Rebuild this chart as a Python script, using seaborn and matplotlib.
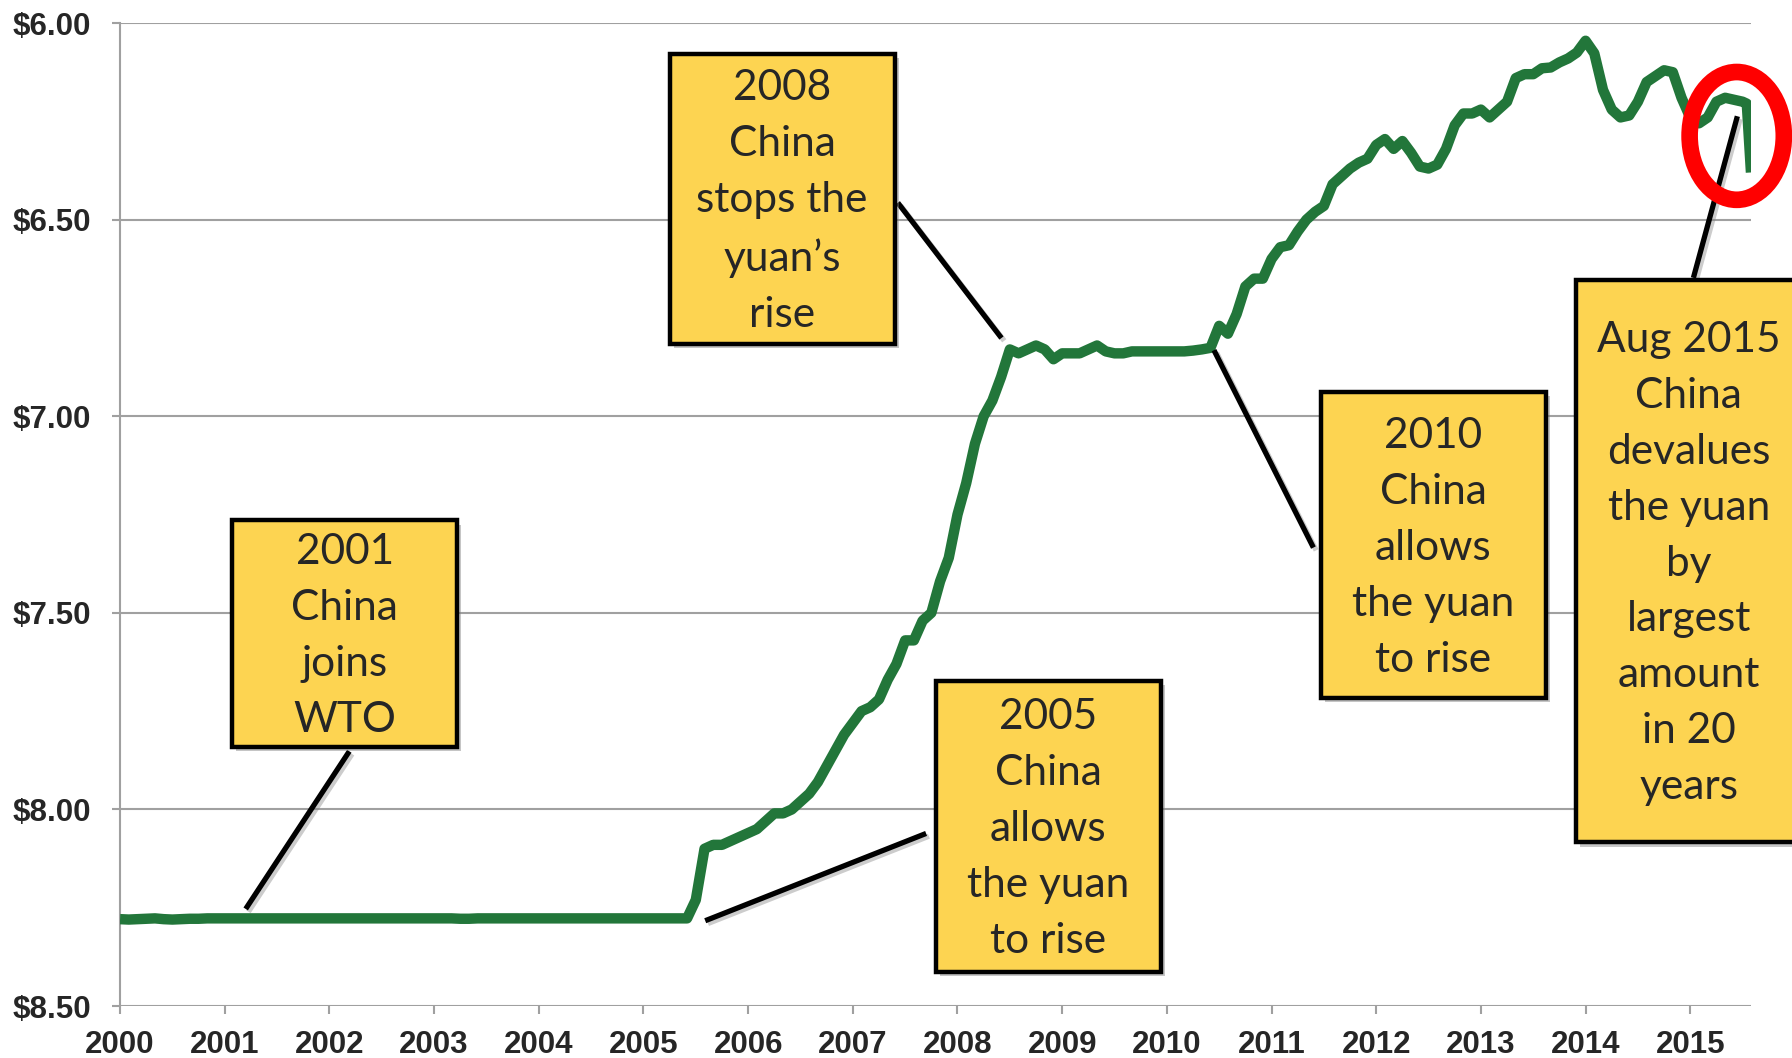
import numpy as np
import pandas as pd
import matplotlib
matplotlib.use("Agg")
import matplotlib.pyplot as plt
import matplotlib.patheffects as pe
from matplotlib.patches import Rectangle, Ellipse
import seaborn as sns

sns.set_style("white")
plt.rcParams['font.family'] = ['Liberation Sans', 'DejaVu Sans']

# monthly yuan per US dollar, Jan 2000 .. Jul 2015
rate_2000 = [8.279, 8.280, 8.279, 8.278, 8.277, 8.279, 8.280, 8.279, 8.278, 8.278, 8.277, 8.277]
rate_2001 = [8.277, 8.277, 8.277, 8.277, 8.277, 8.277, 8.277, 8.277, 8.277, 8.277, 8.277, 8.277]
rate_2002 = [8.277, 8.277, 8.277, 8.277, 8.277, 8.277, 8.277, 8.277, 8.277, 8.277, 8.277, 8.277]
rate_2003 = [8.277, 8.277, 8.277, 8.278, 8.278, 8.277, 8.277, 8.277, 8.277, 8.277, 8.277, 8.277]
rate_2004 = [8.277, 8.277, 8.277, 8.277, 8.277, 8.277, 8.277, 8.277, 8.277, 8.277, 8.277, 8.277]
rate_2005 = [8.277, 8.277, 8.277, 8.277, 8.277, 8.277, 8.23, 8.10, 8.09, 8.09, 8.08, 8.07]
rate_2006 = [8.06, 8.05, 8.03, 8.01, 8.01, 8.00, 7.98, 7.96, 7.93, 7.89, 7.85, 7.81]
rate_2007 = [7.78, 7.75, 7.74, 7.72, 7.67, 7.63, 7.57, 7.57, 7.52, 7.50, 7.42, 7.36]
rate_2008 = [7.25, 7.17, 7.07, 7.00, 6.96, 6.90, 6.83, 6.84, 6.83, 6.82, 6.83, 6.855]
rate_2009 = [6.84, 6.84, 6.84, 6.83, 6.82, 6.835, 6.84, 6.84, 6.835, 6.835, 6.835, 6.835]
rate_2010 = [6.835, 6.835, 6.835, 6.833, 6.83, 6.826, 6.77, 6.79, 6.74, 6.67, 6.65, 6.65]
rate_2011 = [6.60, 6.57, 6.565, 6.53, 6.50, 6.48, 6.465, 6.41, 6.39, 6.37, 6.355, 6.345]
rate_2012 = [6.31, 6.295, 6.32, 6.30, 6.33, 6.365, 6.37, 6.36, 6.32, 6.26, 6.23, 6.23]
rate_2013 = [6.22, 6.24, 6.22, 6.20, 6.14, 6.13, 6.13, 6.115, 6.113, 6.10, 6.09, 6.075]
rate_2014 = [6.045, 6.077, 6.17, 6.22, 6.24, 6.235, 6.20, 6.15, 6.135, 6.12, 6.125, 6.19]
rate_2015 = [6.24, 6.255, 6.24, 6.20, 6.19, 6.195, 6.20]
# the August 2015 devaluation days
aug_time = [2015.54, 2015.58]
aug_rate = [6.205, 6.38]

monthly = (rate_2000 + rate_2001 + rate_2002 + rate_2003 + rate_2004 + rate_2005 + rate_2006
           + rate_2007 + rate_2008 + rate_2009 + rate_2010 + rate_2011 + rate_2012 + rate_2013
           + rate_2014 + rate_2015)
time = list(2000 + np.arange(len(monthly)) / 12) + aug_time
rate = monthly + aug_rate
df = pd.DataFrame({"time": time, "rate": rate})

years = list(range(2000, 2016))
y_ticks = [6.0, 6.5, 7.0, 7.5, 8.0, 8.5]

notes = [
    "2001\nChina\njoins\nWTO",
    "2008\nChina\nstops the\nyuan\u2019s\nrise",
    "2005\nChina\nallows\nthe yuan\nto rise",
    "2010\nChina\nallows\nthe yuan\nto rise",
    "Aug 2015\nChina\ndevalues\nthe yuan\nby\nlargest\namount\nin 20\nyears",
]
# box extents (year_left, year_right, rate_top, rate_bottom)
note_box = [
    (2001.07, 2003.22, 7.265, 7.842),
    (2005.25, 2007.40, 6.079, 6.816),
    (2007.79, 2009.94, 7.673, 8.413),
    (2011.47, 2013.62, 6.939, 7.717),
    (2013.91, 2016.06, 6.653, 8.084),
]
# connector lines (from box, to the curve)
note_line = [
    ((2002.19, 7.852), (2001.20, 8.253)),
    ((2007.43, 6.457), (2008.42, 6.801)),
    ((2007.70, 8.061), (2005.59, 8.283)),
    ((2010.45, 6.832), (2011.40, 7.334)),
    ((2015.03, 6.648), (2015.45, 6.237)),
]

fig = plt.figure(figsize=(17.92, 10.58), dpi=100)
ax = fig.add_axes([0.067, 0.0491, 0.9101, 0.9291])

sns.lineplot(data=df, x="time", y="rate", color="#22763A", linewidth=7.5,
             estimator=None, sort=False, ax=ax, zorder=3,
             solid_joinstyle="round", solid_capstyle="butt")

ax.set_xlim(2000, 2015.58)
ax.set_ylim(8.5, 6.0)
ax.set_xticks(years)
ax.set_xticklabels([str(y) for y in years])
ax.set_yticks(y_ticks)
ax.set_yticklabels(["${:.2f}".format(v) for v in y_ticks])
ax.set_xlabel("")
ax.set_ylabel("")

ax.grid(axis="y", color="#A0A0A0", linewidth=1.5)
ax.grid(axis="x", visible=False)
for s in ["top", "right", "bottom"]:
    ax.spines[s].set_visible(False)
ax.spines["left"].set_color("#A0A0A0")
ax.spines["left"].set_linewidth(1.5)
ax.tick_params(axis="x", length=6, width=1.5, color="#A0A0A0", pad=11,
               labelsize=22.5, direction="out", bottom=True)
ax.tick_params(axis="y", length=6, width=1.5, color="#A0A0A0", pad=15,
               labelsize=22.5, direction="out", left=True)
for lab in ax.get_xticklabels() + ax.get_yticklabels():
    lab.set_fontweight("bold")

shadow = [pe.withSimplePatchShadow(offset=(3, -3), shadow_rgbFace="#808080", alpha=0.45)]
line_shadow = [pe.SimpleLineShadow(offset=(2, -2), shadow_color="#808080", alpha=0.4), pe.Normal()]

for (p0, p1) in note_line:
    ax.plot([p0[0], p1[0]], [p0[1], p1[1]], color="black", linewidth=3.8,
            solid_capstyle="butt", zorder=4, clip_on=False, path_effects=line_shadow)

for text, (x0, x1, ytop, ybot) in zip(notes, note_box):
    rect = Rectangle((x0, ytop), x1 - x0, ybot - ytop, facecolor="#FDD451",
                     edgecolor="black", linewidth=3.2, zorder=5, clip_on=False,
                     path_effects=shadow)
    ax.add_patch(rect)
    ax.text((x0 + x1) / 2, (ytop + ybot) / 2 + 0.006, text, ha="center", va="center",
            fontsize=30.5, family=["Lato", "DejaVu Sans"], linespacing=1.58,
            zorder=6, clip_on=False)

ax.add_patch(Ellipse((2015.444, 6.287), 0.9, 0.325, facecolor="none",
                     edgecolor="#FF0000", linewidth=12, zorder=7, clip_on=False))

fig.savefig("out.png", dpi=100)
